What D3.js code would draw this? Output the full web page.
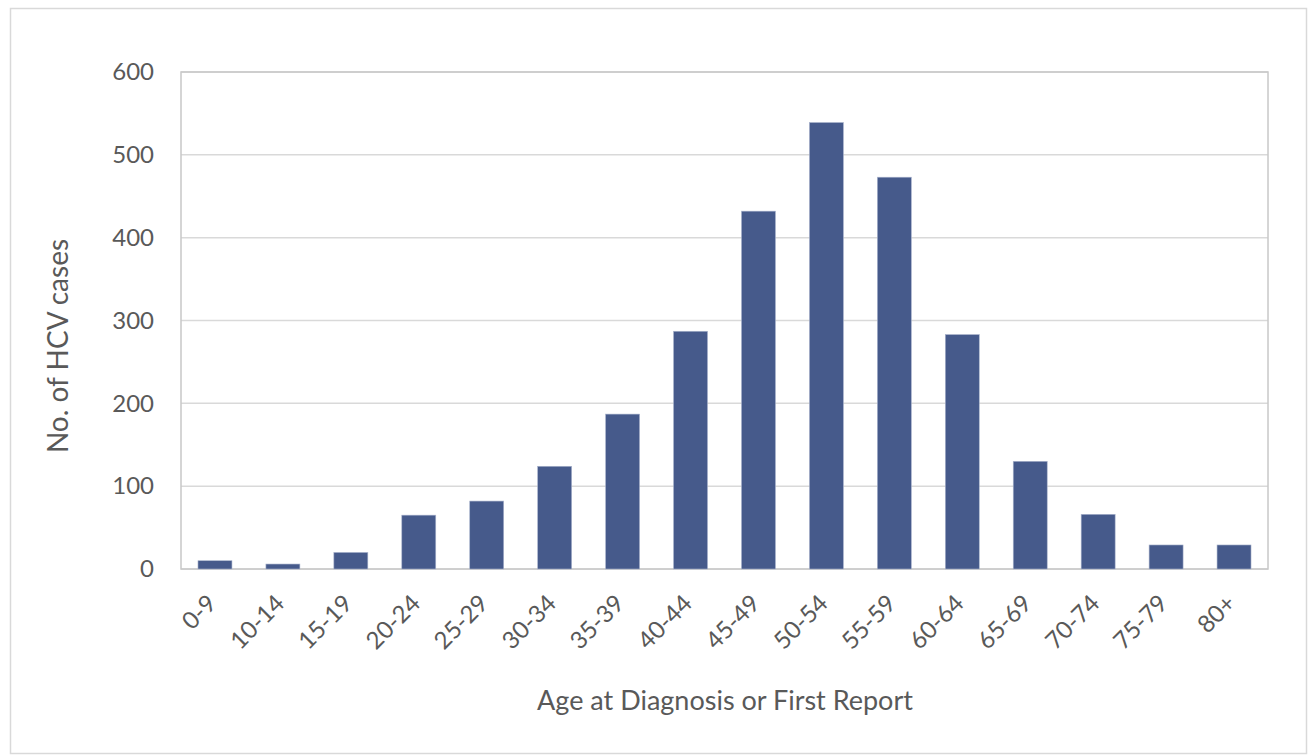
<!DOCTYPE html>
<html>
<head>
<meta charset="utf-8">
<script src="https://cdn.jsdelivr.net/npm/d3@7"></script>
<style>
  body { margin: 0; background: #fff; }
  text { font-family: Lato, "Open Sans", sans-serif; fill: #595959; }
</style>
</head>
<body>
<div id="chart"></div>
<script>
// age groups and case counts
var ageGroups = ["0-9", "10-14", "15-19", "20-24", "25-29", "30-34", "35-39", "40-44",
                 "45-49", "50-54", "55-59", "60-64", "65-69", "70-74", "75-79", "80+"];
var cases = [10, 6, 20, 65, 82, 124, 187, 287, 432, 539, 473, 283, 130, 66, 29, 29];
var yTicks = [0, 100, 200, 300, 400, 500, 600];

var W = 1308, H = 755;
var margin = {top: 72, left: 181, right: 40, bottom: 186};
var width = 1268 - margin.left,
    height = 569 - margin.top;

var svg = d3.select("#chart")
    .append("svg")
    .attr("width", W)
    .attr("height", H);

// outer chart border
svg.append("rect")
    .attr("x", 10.5).attr("y", 8.5)
    .attr("width", 1296).attr("height", 745)
    .attr("fill", "none")
    .attr("stroke", "#d9d9d9")
    .attr("stroke-width", 1.5);

var g = svg.append("g")
    .attr("transform", "translate(" + margin.left + "," + margin.top + ")");

var x = d3.scaleBand()
    .domain(ageGroups)
    .range([0, width])
    .paddingInner(0.5)
    .paddingOuter(0.25);

var y = d3.scaleLinear()
    .domain([0, 600])
    .range([height, 0]);

// gridlines
g.selectAll(".grid")
    .data(yTicks)
    .enter().append("line")
    .attr("class", "grid")
    .attr("x1", 0).attr("x2", width)
    .attr("y1", d => y(d)).attr("y2", d => y(d))
    .attr("stroke", "#d9d9d9")
    .attr("stroke-width", 1.5);

// plot area frame
g.append("rect")
    .attr("x", 0).attr("y", 0)
    .attr("width", width).attr("height", height)
    .attr("fill", "none")
    .attr("stroke", "#c8c8c8")
    .attr("stroke-width", 1.5);

// bars
g.selectAll(".bar")
    .data(cases)
    .enter().append("rect")
    .attr("class", "bar")
    .attr("x", (d, i) => x(ageGroups[i]))
    .attr("y", d => y(d))
    .attr("width", x.bandwidth())
    .attr("height", d => height - y(d))
    .attr("fill", "#465a8b")
    .attr("stroke", "#a9b3cc")
    .attr("stroke-width", 0.6);

// y axis
var yAxis = d3.axisLeft(y).tickValues(yTicks).tickSize(0).tickPadding(27);
g.append("g")
    .call(yAxis)
    .call(s => s.select(".domain").remove())
    .selectAll("text")
    .style("font-size", "24px")
    .style("fill", "#595959");

// x axis
var xAxis = d3.axisBottom(x).tickSize(0).tickPadding(0);
g.append("g")
    .attr("transform", "translate(0," + height + ")")
    .call(xAxis)
    .call(s => s.select(".domain").remove())
    .selectAll("text")
    .style("font-size", "24px")
    .style("fill", "#595959")
    .style("text-anchor", "end")
    .attr("dy", "0")
    .attr("transform", "translate(3,36) rotate(-45)");

// axis titles
svg.append("text")
    .attr("x", 725)
    .attr("y", 710)
    .attr("text-anchor", "middle")
    .style("font-size", "27px")
    .text("Age at Diagnosis or First Report");

svg.append("text")
    .attr("transform", "translate(68,346) rotate(-90)")
    .attr("text-anchor", "middle")
    .style("font-size", "28px")
    .text("No. of HCV cases");
</script>
</body>
</html>
